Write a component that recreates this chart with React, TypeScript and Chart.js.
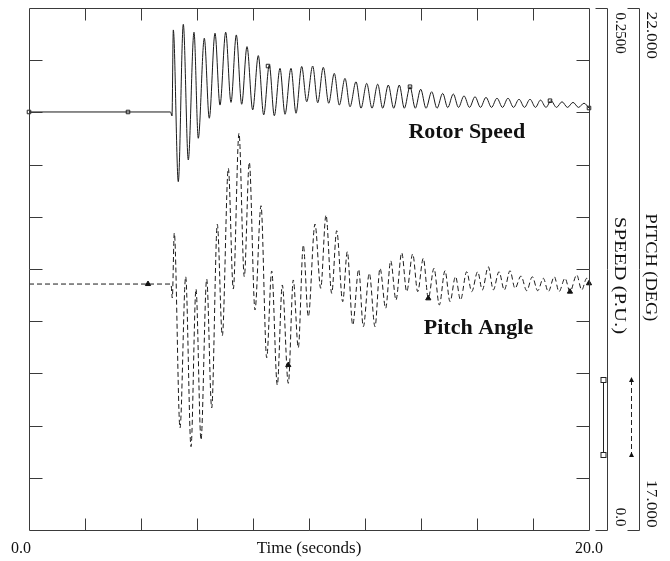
import React, { useEffect, useRef } from "react";
import { Chart, registerables } from "chart.js";

Chart.register(...registerables);

// ---- Data (time in seconds) ----
const speedTimes = [
  0, 5.054, 5.107, 5.154, 5.332, 5.511, 5.689, 5.893, 6.046, 6.261, 6.439, 6.643, 6.821, 7.025, 7.214,
  7.404, 7.596, 7.786, 7.989, 8.189, 8.382, 8.582, 8.761, 8.964, 9.143, 9.357, 9.536, 9.739, 9.918,
  10.132, 10.311, 10.511, 10.704, 10.904, 11.082, 11.286, 11.464, 11.679, 11.857, 12.061, 12.25,
  12.454, 12.632, 12.832, 13.025, 13.225, 13.404, 13.607, 13.796, 13.989, 14.179, 14.382, 14.571,
  14.775, 14.954, 15.154, 15.339, 15.536, 15.732, 15.929, 16.125, 16.321, 16.518, 16.714, 16.911,
  17.107, 17.304, 17.5, 17.696, 17.893, 18.089, 18.268, 18.464, 18.643, 18.839, 19.036, 19.232,
  19.429, 19.625, 19.821, 20.0,
];
const speedValues = [
  0.2002, 0.2002, 0.1983, 0.2395, 0.1668, 0.2422, 0.1772, 0.2384, 0.1876, 0.2355, 0.1972, 0.2379,
  0.2035, 0.2384, 0.2048, 0.2371, 0.2039, 0.2315, 0.2012, 0.2272, 0.1988, 0.2227, 0.1984, 0.2211,
  0.1991, 0.2211, 0.1996, 0.222, 0.2051, 0.2222, 0.2046, 0.2216, 0.2044, 0.2187, 0.2035, 0.2163,
  0.2027, 0.2147, 0.202, 0.2139, 0.202, 0.2135, 0.202, 0.2131, 0.202, 0.2131, 0.202, 0.2123, 0.202,
  0.2111, 0.202, 0.2099, 0.202, 0.2091, 0.2023, 0.2088, 0.2024, 0.2079, 0.2024, 0.2075, 0.2024,
  0.2072, 0.2024, 0.2068, 0.2024, 0.2068, 0.2024, 0.2063, 0.2024, 0.2063, 0.2024, 0.2059, 0.2024,
  0.2056, 0.2024, 0.2051, 0.2024, 0.2048, 0.2024, 0.2044, 0.2021,
];
const pitchTimes = [
  0, 5.071, 5.118, 5.189, 5.393, 5.596, 5.786, 5.964, 6.143, 6.346, 6.525, 6.725, 6.904, 7.118, 7.296,
  7.5, 7.689, 7.868, 8.071, 8.286, 8.489, 8.668, 8.868, 9.046, 9.261, 9.439, 9.618, 9.796, 9.975,
  10.214, 10.418, 10.607, 10.811, 10.989, 11.204, 11.368, 11.561, 11.775, 11.939, 12.154, 12.357,
  12.536, 12.739, 12.918, 13.107, 13.311, 13.489, 13.704, 13.882, 14.082, 14.261, 14.464, 14.654,
  14.857, 15.036, 15.232, 15.411, 15.632, 15.811, 16.025, 16.189, 16.404, 16.582, 16.786, 16.975,
  17.179, 17.357, 17.571, 17.775, 17.975, 18.168, 18.368, 18.546, 18.761, 18.929, 19.143, 19.321,
  19.561, 19.739, 19.918, 20.0,
];
const pitchValues = [
  19.356, 19.356, 19.222, 19.845, 17.977, 19.426, 17.798, 19.308, 17.862, 19.404, 18.169, 19.928,
  18.861, 20.465, 19.308, 20.8, 19.426, 20.522, 19.107, 20.106, 18.65, 19.481, 18.389, 19.347,
  18.405, 19.395, 18.746, 19.73, 19.043, 19.931, 19.315, 20.017, 19.267, 19.867, 19.187, 19.666,
  18.964, 19.497, 18.947, 19.459, 18.947, 19.507, 19.124, 19.579, 19.203, 19.656, 19.283, 19.644,
  19.283, 19.602, 19.219, 19.507, 19.155, 19.484, 19.187, 19.428, 19.203, 19.474, 19.283, 19.474,
  19.299, 19.522, 19.299, 19.474, 19.299, 19.484, 19.315, 19.433, 19.292, 19.426, 19.292, 19.411,
  19.283, 19.426, 19.283, 19.411, 19.283, 19.443, 19.299, 19.411, 19.363,
];
const speedMarkerTimes = [0, 3.536, 8.536, 13.607, 18.607, 20];
const speedMarkerValues = [0.2002, 0.2002, 0.2222, 0.2123, 0.2056, 0.2021];
const pitchMarkerTimes = [4.25, 9.26, 14.26, 19.32, 20];
const pitchMarkerValues = [19.356, 18.58, 19.219, 19.283, 19.363];

const xLabels = ["0.0", "20.0"];
const xTitle = "Time (seconds)";
const speedAxisLabels = ["0.2500", "0.0"];
const pitchAxisLabels = ["22.000", "17.000"];
const speedAxisTitle = "SPEED (P.U.)";
const pitchAxisTitle = "PITCH (DEG)";
const seriesLabels = ["Rotor Speed", "Pitch Angle"];

const X_MIN = 0, X_MAX = 20;
const S_MIN = 0, S_MAX = 0.25;
const P_MIN = 17, P_MAX = 22;

const SERIF = '"Liberation Serif", "DejaVu Serif", serif';

const zip = (xs: number[], ys: number[]) => xs.map((x, i) => ({ x, y: ys[i] }));

const framePlugin = {
  id: "pssFrame",
  afterDraw(chart: any) {
    const { ctx, chartArea } = chart;
    const { left, right, top, bottom } = chartArea;
    const xs = chart.scales.x;
    const ys = chart.scales.ySpeed;
    const yp = chart.scales.yPitch;
    ctx.save();
    ctx.strokeStyle = "#3a3a3a";
    ctx.lineWidth = 1;
    const L = Math.round(left) + 0.5, R = Math.round(right) + 0.5;
    const T = Math.round(top) + 0.5, B = Math.round(bottom) + 0.5;
    ctx.beginPath();
    ctx.rect(L, T, R - L, B - T);
    for (let v = X_MIN + 2; v < X_MAX; v += 2) {
      const px = Math.round(xs.getPixelForValue(v)) + 0.5;
      ctx.moveTo(px, B); ctx.lineTo(px, B - 12);
      ctx.moveTo(px, T); ctx.lineTo(px, T + 12);
    }
    for (let k = 1; k < 10; k++) {
      const py = Math.round(ys.getPixelForValue(S_MIN + (S_MAX - S_MIN) * k / 10)) + 0.5;
      ctx.moveTo(L, py); ctx.lineTo(L + 13, py);
      ctx.moveTo(R, py); ctx.lineTo(R - 13, py);
    }
    ctx.stroke();

    // right-hand axes
    const sTop = Math.round(ys.getPixelForValue(S_MAX)) + 0.5;
    const sBot = Math.round(ys.getPixelForValue(S_MIN)) + 0.5;
    const pTop = Math.round(yp.getPixelForValue(P_MAX)) + 0.5;
    const pBot = Math.round(yp.getPixelForValue(P_MIN)) + 0.5;
    const sx = Math.round(right) + 18.5;
    const pxA = Math.round(right) + 50.5;
    ctx.beginPath();
    ctx.moveTo(sx, sTop); ctx.lineTo(sx, sBot);
    ctx.moveTo(sx - 12, sTop); ctx.lineTo(sx, sTop);
    ctx.moveTo(sx - 12, sBot); ctx.lineTo(sx, sBot);
    ctx.moveTo(pxA, pTop); ctx.lineTo(pxA, pBot);
    ctx.moveTo(pxA - 12, pTop); ctx.lineTo(pxA, pTop);
    ctx.moveTo(pxA - 12, pBot); ctx.lineTo(pxA, pBot);
    ctx.stroke();

    // legend samples
    const ly1 = top + 372, ly2 = top + 447;
    const lsx = Math.round(right) + 14.5;
    ctx.strokeStyle = "#222";
    ctx.beginPath();
    ctx.moveTo(lsx, ly1); ctx.lineTo(lsx, ly2);
    ctx.stroke();
    ctx.fillStyle = "#fff";
    for (const yy of [ly1, ly2]) {
      ctx.fillRect(lsx - 2.5, yy - 2.5, 5, 5);
      ctx.strokeRect(lsx - 2.5, yy - 2.5, 5, 5);
    }
    const lpx = Math.round(right) + 42.5;
    ctx.setLineDash([5, 3]);
    ctx.beginPath();
    ctx.moveTo(lpx, ly1); ctx.lineTo(lpx, ly2);
    ctx.stroke();
    ctx.setLineDash([]);
    ctx.fillStyle = "#111";
    ctx.beginPath();
    ctx.moveTo(lpx, ly1 - 3); ctx.lineTo(lpx - 2.5, ly1 + 2); ctx.lineTo(lpx + 2.5, ly1 + 2); ctx.closePath();
    ctx.moveTo(lpx, ly2 - 3); ctx.lineTo(lpx - 2.5, ly2 + 2); ctx.lineTo(lpx + 2.5, ly2 + 2); ctx.closePath();
    ctx.fill();

    // bottom texts
    ctx.fillStyle = "#111";
    ctx.font = `16px ${SERIF}`;
    ctx.textBaseline = "middle";
    ctx.textAlign = "center";
    ctx.fillText(xLabels[0], left - 8, bottom + 19);
    ctx.fillText(xLabels[1], right, bottom + 19);
    ctx.font = `17px ${SERIF}`;
    ctx.fillText(xTitle, (left + right) / 2, bottom + 19);

    // rotated (clockwise) right-hand texts, slightly stretched along the text
    const rot = (txt: string, x: number, y: number, align: CanvasTextAlign, stretch: number) => {
      ctx.save();
      ctx.translate(x, y);
      ctx.rotate(Math.PI / 2);
      ctx.scale(stretch, 1);
      ctx.textAlign = align;
      ctx.textBaseline = "middle";
      ctx.fillText(txt, 0, 0);
      ctx.restore();
    };
    ctx.font = `15px ${SERIF}`;
    rot(speedAxisLabels[0], sx + 12, sTop + 4, "left", 1.0);
    rot(speedAxisLabels[1], sx + 12, sBot - 4, "right", 1.0);
    rot(pitchAxisLabels[0], pxA + 11, pTop + 3, "left", 1.15);
    rot(pitchAxisLabels[1], pxA + 11, pBot - 3, "right", 1.15);
    ctx.font = `16px ${SERIF}`;
    rot(speedAxisTitle, sx + 12, (sTop + sBot) / 2 + 6, "center", 1.3);
    rot(pitchAxisTitle, pxA + 11, (pTop + pBot) / 2 - 2, "center", 1.15);

    // series labels
    ctx.font = `bold 22px ${SERIF}`;
    ctx.textAlign = "left";
    ctx.textBaseline = "alphabetic";
    ctx.fillText(seriesLabels[0], xs.getPixelForValue(13.55), ys.getPixelForValue(0.1879));
    ctx.fillText(seriesLabels[1], xs.getPixelForValue(14.1), yp.getPixelForValue(18.88));
    ctx.restore();
  },
};

export default function App() {
  const ref = useRef<HTMLCanvasElement | null>(null);
  useEffect(() => {
    if (!ref.current) return;
    const chart = new Chart(ref.current, {
      type: "line",
      data: {
        datasets: [
          {
            label: "Rotor Speed",
            data: zip(speedTimes, speedValues),
            yAxisID: "ySpeed",
            borderColor: "#1a1a1a",
            borderWidth: 1,
            pointRadius: 0,
            cubicInterpolationMode: "monotone",
            fill: false,
          },
          {
            label: "Pitch Angle",
            data: zip(pitchTimes, pitchValues),
            yAxisID: "yPitch",
            borderColor: "#1a1a1a",
            borderWidth: 1,
            borderDash: [5, 3],
            pointRadius: 0,
            cubicInterpolationMode: "monotone",
            fill: false,
          },
          {
            label: "speed markers",
            data: zip(speedMarkerTimes, speedMarkerValues),
            yAxisID: "ySpeed",
            showLine: false,
            pointStyle: "rect",
            pointRadius: 2.5,
            pointBackgroundColor: "#fff",
            pointBorderColor: "#222",
            pointBorderWidth: 1,
          },
          {
            label: "pitch markers",
            data: zip(pitchMarkerTimes, pitchMarkerValues),
            yAxisID: "yPitch",
            showLine: false,
            pointStyle: "triangle",
            pointRadius: 3,
            pointBackgroundColor: "#111",
            pointBorderColor: "#111",
            pointBorderWidth: 1,
          },
        ],
      },
      options: {
        responsive: false,
        animation: false,
        events: [],
        layout: { padding: { left: 29, right: 81, top: 8, bottom: 31 } },
        plugins: { legend: { display: false }, tooltip: { enabled: false } },
        scales: {
          x: { type: "linear", min: X_MIN, max: X_MAX, display: false },
          ySpeed: { type: "linear", min: S_MIN, max: S_MAX, display: false, position: "left" },
          yPitch: { type: "linear", min: P_MIN, max: P_MAX, display: false, position: "right" },
        },
        clip: false as any,
      },
      plugins: [framePlugin],
    });
    return () => chart.destroy();
  }, []);
  return (
    <div style={{ position: "fixed", left: 0, top: 0, width: 670, height: 561, background: "#fff" }}>
      <canvas ref={ref} width={670} height={561} />
    </div>
  );
}
